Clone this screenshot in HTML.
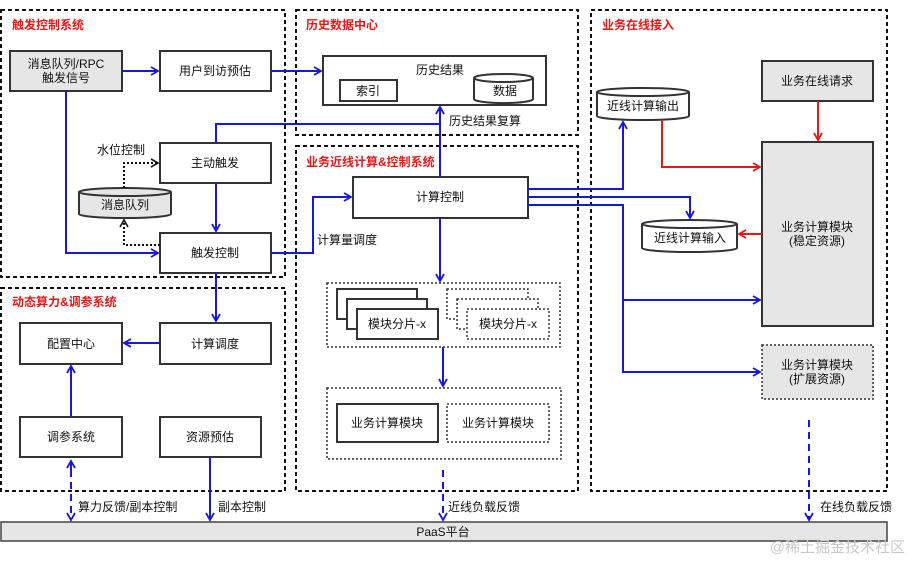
<!DOCTYPE html>
<html><head><meta charset="utf-8"><style>
html,body{margin:0;padding:0;background:#fff;}
svg{display:block;font-family:"Liberation Sans","Noto Sans CJK SC",sans-serif;}
</style></head><body>
<svg width="922" height="573" viewBox="0 0 922 573" xmlns="http://www.w3.org/2000/svg">
<defs>
<marker id="ab" markerWidth="10" markerHeight="10" refX="8" refY="5" orient="auto" markerUnits="userSpaceOnUse"><path d="M1,1 L8,5 L1,9" fill="none" stroke="#1818d8" stroke-width="1.8"/></marker>
<marker id="ar" markerWidth="10" markerHeight="10" refX="8" refY="5" orient="auto" markerUnits="userSpaceOnUse"><path d="M1,1 L8,5 L1,9" fill="none" stroke="#e81818" stroke-width="1.8"/></marker>
<marker id="ak" markerWidth="10" markerHeight="10" refX="8" refY="5" orient="auto" markerUnits="userSpaceOnUse"><path d="M1,1 L8,5 L1,9" fill="none" stroke="#111" stroke-width="1.6"/></marker>
</defs>
<g fill="none" stroke="#111" stroke-width="2" stroke-dasharray="4,3">
<rect x="1" y="10" width="284" height="267"/>
<rect x="296" y="10" width="282" height="125"/>
<rect x="296" y="146" width="282" height="345"/>
<rect x="1" y="288" width="284" height="203"/>
<rect x="591" y="10" width="296" height="481"/>
</g>
<g font-size="12" font-weight="bold" fill="#e81818">
<text x="12" y="29">触发控制系统</text>
<text x="306" y="29">历史数据中心</text>
<text x="306" y="166">业务近线计算&amp;控制系统</text>
<text x="12" y="306">动态算力&amp;调参系统</text>
<text x="602" y="29">业务在线接入</text>
</g>
<rect x="1" y="522" width="886" height="19" fill="#e6e6e6" stroke="#444" stroke-width="1.5"/>
<text x="443" y="536" font-size="12" text-anchor="middle" fill="#111">PaaS平台</text>
<g stroke="#333" stroke-width="2">
<rect x="10" y="51" width="112" height="40" fill="#e6e6e6"/>
<rect x="160" y="51" width="111" height="40" fill="#fff"/>
<rect x="160" y="143" width="111" height="40" fill="#fff"/>
<rect x="160" y="233" width="111" height="40" fill="#fff"/>
<rect x="323" y="56" width="223" height="49" fill="#fff"/>
<rect x="340" y="80" width="57" height="21" fill="#fff"/>
<rect x="353" y="177" width="175" height="41" fill="#fff"/>
<rect x="20" y="323" width="102" height="41" fill="#fff"/>
<rect x="160" y="323" width="111" height="41" fill="#fff"/>
<rect x="20" y="417" width="102" height="40" fill="#fff"/>
<rect x="160" y="417" width="101" height="40" fill="#fff"/>
<rect x="762" y="61" width="111" height="40" fill="#e6e6e6"/>
<rect x="762" y="142" width="111" height="184" fill="#e6e6e6"/>
<rect x="337" y="289" width="80" height="30" fill="#fff"/>
<rect x="347" y="299" width="80" height="30" fill="#fff"/>
<rect x="357" y="309" width="81" height="30" fill="#fff"/>
<rect x="337" y="404" width="101" height="38" fill="#fff"/>
</g>
<g stroke="#333" stroke-width="1.5" stroke-dasharray="2,2" fill="#fff">
<rect x="327" y="283" width="233" height="64" fill="none"/>
<rect x="327" y="388" width="234" height="71" fill="none"/>
<rect x="447" y="289" width="81" height="30"/>
<rect x="457" y="299" width="81" height="30"/>
<rect x="467" y="309" width="82" height="30"/>
<rect x="447" y="404" width="102" height="38"/>
<rect x="762" y="345" width="111" height="54" fill="#e6e6e6"/>
</g>
<!-- cylinders -->
<g stroke="#333" stroke-width="2">
<path d="M79,192 V214 A46,4 0 0 0 171,214 V192" fill="#e6e6e6"/><ellipse cx="125" cy="192" rx="46" ry="4" fill="#e6e6e6"/>
<path d="M474,78 V99 A29,4 0 0 0 533,99 V78" fill="#fff"/><ellipse cx="503.5" cy="78" rx="29.5" ry="4" fill="#fff"/>
<path d="M597,92 V116 A46,4 0 0 0 689,116 V92" fill="#fff"/><ellipse cx="643" cy="92" rx="46" ry="4" fill="#fff"/>
<path d="M642,224 V248 A47,4 0 0 0 737,248 V224" fill="#fff"/><ellipse cx="689.5" cy="224" rx="47.5" ry="4" fill="#fff"/>
</g>
<g font-size="12" fill="#111" text-anchor="middle">
<text x="66" y="68">消息队列/RPC</text><text x="66" y="82">触发信号</text>
<text x="215" y="75">用户到访预估</text>
<text x="215" y="167">主动触发</text>
<text x="215" y="257">触发控制</text>
<text x="125" y="209">消息队列</text>
<text x="440" y="74">历史结果</text>
<text x="368" y="95">索引</text>
<text x="505" y="95">数据</text>
<text x="440" y="201">计算控制</text>
<text x="397" y="328">模块分片-x</text>
<text x="508" y="328">模块分片-x</text>
<text x="387" y="427">业务计算模块</text>
<text x="498" y="427">业务计算模块</text>
<text x="71" y="348">配置中心</text>
<text x="215" y="348">计算调度</text>
<text x="71" y="441">调参系统</text>
<text x="210" y="441">资源预估</text>
<text x="817" y="85">业务在线请求</text>
<text x="817" y="231">业务计算模块</text><text x="817" y="245">(稳定资源)</text>
<text x="817" y="369">业务计算模块</text><text x="817" y="383">(扩展资源)</text>
<text x="643" y="110">近线计算输出</text>
<text x="690" y="242">近线计算输入</text>
</g>
<g font-size="12" fill="#111">
<text x="97" y="154">水位控制</text>
<text x="449" y="125">历史结果复算</text>
<text x="317" y="244">计算量调度</text>
<text x="78" y="511">算力反馈/副本控制</text>
<text x="218" y="511">副本控制</text>
<text x="448" y="511">近线负载反馈</text>
<text x="820" y="511">在线负载反馈</text>
</g>
<text x="905" y="552" font-size="15" fill="#c8c8c8" text-anchor="end">@稀土掘金技术社区</text>
<!-- blue connectors -->
<g fill="none" stroke="#1818d8" stroke-width="2">
<path d="M122,71 H158" marker-end="url(#ab)"/>
<path d="M271,71 H321" marker-end="url(#ab)"/>
<path d="M66,91 V253 H158" marker-end="url(#ab)"/>
<path d="M216,143 V124 H440"/>
<path d="M440,177 V107" marker-end="url(#ab)"/>
<path d="M216,183 V231" marker-end="url(#ab)"/>
<path d="M271,253 H313 V197 H351" marker-end="url(#ab)"/>
<path d="M216,273 V321" marker-end="url(#ab)"/>
<path d="M160,343 H124" marker-end="url(#ab)"/>
<path d="M71,417 V366" marker-end="url(#ab)"/>
<path d="M210,457 V520" marker-end="url(#ab)"/>
<path d="M440,218 V281" marker-end="url(#ab)"/>
<path d="M443,347 V386" marker-end="url(#ab)"/>
<path d="M528,189 H623 V122" marker-end="url(#ab)"/>
<path d="M528,197 H690 V218" marker-end="url(#ab)"/>
<path d="M528,205 H623 V372 H760" marker-end="url(#ab)"/>
<path d="M623,300 H760" marker-end="url(#ab)"/>
</g>
<g fill="none" stroke="#1818d8" stroke-width="2" stroke-dasharray="7,5">
<path d="M71,470 V520" marker-end="url(#ab)"/>
<path d="M71,475 V461" stroke-dasharray="none" marker-end="url(#ab)"/>
<path d="M443,470 V520" marker-end="url(#ab)"/>
<path d="M809,420 V520" marker-end="url(#ab)"/>
</g>
<!-- red -->
<g fill="none" stroke="#e81818" stroke-width="2">
<path d="M662,120 V167 H760" marker-end="url(#ar)"/>
<path d="M818,101 V140" marker-end="url(#ar)"/>
<path d="M762,234 H739" marker-end="url(#ar)"/>
</g>
<!-- dotted black -->
<g fill="none" stroke="#111" stroke-width="2" stroke-dasharray="2,2">
<path d="M124,188 V163 H158" marker-end="url(#ak)"/>
<path d="M160,245 H124 V220" marker-end="url(#ak)"/>
</g>
</svg>
</body></html>
